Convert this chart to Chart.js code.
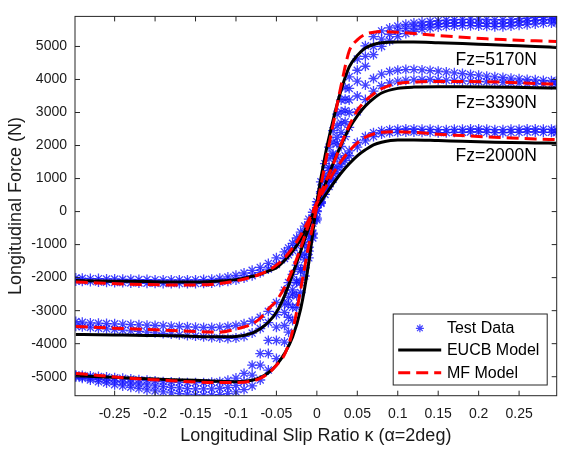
<!DOCTYPE html>
<html><head><meta charset="utf-8">
<script src="https://cdn.jsdelivr.net/npm/chart.js@4.4.1/dist/chart.umd.min.js"></script>
<style>html,body{margin:0;padding:0;background:#fff;}canvas{display:block;}</style>
</head><body>
<canvas id="c" width="563" height="449"></canvas>
<script>
// ---------- data ----------
const X_TICKS = [-0.25,-0.2,-0.15,-0.1,-0.05,0,0.05,0.1,0.15,0.2,0.25];
const Y_TICKS = [-5000,-4000,-3000,-2000,-1000,0,1000,2000,3000,4000,5000];

// slip ratio grid of test-data samples
const KAPPA_TEST = [-0.298,-0.29,-0.28,-0.27,-0.26,-0.25,-0.24,-0.23,-0.22,-0.21,-0.2,-0.19,-0.18,-0.17,-0.16,-0.15,-0.14,-0.13,-0.12,-0.11,-0.1,-0.09,-0.08,-0.07,-0.06,-0.05,-0.04,
 -0.035,-0.03,-0.025,-0.02,-0.015,-0.01,-0.005,0,0.005,0.01,0.015,0.02,0.025,0.03,0.035,0.04,
 0.05,0.06,0.07,0.08,0.09,0.1,0.11,0.12,0.13,0.14,0.15,0.16,0.17,0.18,0.19,0.2,0.21,0.22,0.23,0.24,0.25,0.26,0.27,0.28,0.29,0.296];

// Test data, Fz=2000N (two passes of the loop)
const TEST_2000_A = [-2010,-2020,-2030,-2030,-2040,-2040,-2050,-2050,-2060,-2060,-2070,-2070,-2070,-2070,-2070,-2070,-2060,-2050,-2020,-1980,-1930,-1860,-1780,-1690,-1570,-1400,-1220,
 -1100,-960,-800,-620,-440,-230,-20,200,450,700,930,1150,1350,1530,1690,1840,
 2090,2270,2390,2450,2480,2490,2500,2500,2490,2490,2480,2480,2490,2490,2500,2500,2490,2480,2480,2490,2490,2500,2500,2490,2490,2480];
const TEST_2000_B = [-2100,-2110,-2120,-2130,-2140,-2150,-2150,-2160,-2160,-2170,-2170,-2180,-2180,-2180,-2180,-2180,-2170,-2160,-2140,-2110,-2070,-2010,-1940,-1850,-1740,-1600,-1420,
 -1310,-1180,-1030,-850,-660,-450,-220,20,270,520,760,980,1180,1370,1540,1690,
 1950,2140,2270,2350,2390,2400,2410,2410,2400,2400,2390,2390,2400,2400,2410,2410,2400,2390,2390,2400,2400,2410,2410,2400,2400,2390];
// Test data, Fz=3390N
const TEST_3390_A = [-3330,-3350,-3370,-3380,-3390,-3400,-3410,-3420,-3430,-3440,-3450,-3460,-3470,-3480,-3490,-3500,-3510,-3510,-3500,-3480,-3450,-3400,-3320,-3200,-3020,-2750,-2380,
 -2150,-1900,-1620,-1320,-1000,-650,-280,120,550,950,1330,1700,2060,2400,2720,3000,
 3500,3830,4030,4160,4240,4280,4300,4300,4290,4270,4250,4230,4200,4180,4150,4130,4100,4080,4060,4040,4020,4000,3990,3970,3960,3950];
const TEST_3390_B = [-3470,-3490,-3510,-3530,-3550,-3570,-3590,-3610,-3630,-3650,-3670,-3690,-3710,-3730,-3750,-3770,-3790,-3810,-3830,-3840,-3830,-3780,-3680,-3540,-3360,-3120,-2800,
 -2600,-2370,-2100,-1800,-1460,-1080,-680,-250,250,620,980,1320,1650,1970,2270,2550,
 3020,3390,3650,3810,3900,3950,3980,3990,4000,4000,3990,3980,3970,3960,3950,3940,3930,3920,3910,3900,3890,3880,3870,3860,3850,3850];
// Test data, Fz=5170N
const TEST_5170_A = [-4950,-4960,-4980,-4990,-5010,-5030,-5050,-5070,-5090,-5110,-5130,-5150,-5160,-5170,-5180,-5180,-5180,-5170,-5150,-5110,-5040,-4900,-4650,-4300,-3900,-3500,-3050,
 -2800,-2500,-2150,-1750,-1300,-850,-350,300,900,1450,1950,2450,2950,3380,3750,4080,
 4620,5020,5300,5470,5560,5620,5670,5710,5740,5760,5780,5800,5810,5820,5830,5830,5820,5810,5810,5820,5840,5860,5880,5890,5900,5905];
const TEST_5170_B = [-4980,-5010,-5040,-5070,-5100,-5130,-5160,-5190,-5220,-5250,-5280,-5300,-5320,-5340,-5360,-5370,-5370,-5370,-5350,-5320,-5260,-5150,-4950,-4650,-4300,-3900,-3450,
 -3200,-2900,-2550,-2150,-1700,-1200,-650,0,600,1100,1600,2100,2600,3020,3400,3730,
 4280,4700,5000,5220,5370,5470,5540,5590,5630,5660,5680,5700,5710,5720,5720,5710,5700,5690,5700,5720,5740,5770,5790,5810,5830,5840];
const TEST_5170_C = [-5010,-5050,-5100,-5150,-5190,-5240,-5280,-5320,-5360,-5400,-5430,-5460,-5490,-5510,-5530,-5550,-5560,-5560,-5540,-5510,-5460,-5390,-5280,-5100,-4800,-4450,-3950,
 -3650,-3300,-2900,-2450,-1950,-1400,-800,-200,300,750,1250,1750,2250,2680,3050,3380,
 3950,4400,4750,5000,5170,5300,5390,5460,5520,5560,5590,5610,5620,5630,5630,5620,5610,5600,5600,5620,5640,5660,5680,5700,5710,5720];

// slip ratio grid of model curves
const KAPPA_MODEL = [-0.298,-0.27,-0.24,-0.21,-0.18,-0.15,-0.12,-0.1,-0.08,-0.07,-0.06,-0.05,-0.04,-0.03,-0.02,-0.01,0,0.01,0.02,0.03,0.04,0.05,0.06,0.07,0.08,0.1,0.12,0.15,0.18,0.21,0.24,0.27,0.296];
const EUCB_2000 = [-2090,-2100,-2110,-2120,-2130,-2130,-2100,-2060,-1960,-1900,-1800,-1700,-1480,-1200,-840,-330,130,480,840,1170,1450,1690,1870,2020,2100,2170,2170,2150,2130,2110,2090,2080,2070];
const EUCB_3390 = [-3720,-3730,-3740,-3750,-3760,-3780,-3790,-3780,-3680,-3550,-3350,-3050,-2550,-1900,-1200,-480,250,800,1450,2020,2520,2900,3200,3420,3590,3730,3770,3780,3780,3775,3765,3750,3740];
const EUCB_5170 = [-4970,-5000,-5030,-5060,-5090,-5110,-5140,-5150,-5110,-5030,-4880,-4650,-4300,-3800,-2950,-1550,280,1670,2760,3680,4380,4730,4950,5060,5110,5135,5135,5115,5090,5060,5030,5000,4970];
const MF_2000 = [-2130,-2160,-2190,-2210,-2220,-2220,-2180,-2100,-1980,-1890,-1780,-1620,-1400,-1100,-720,-250,250,700,1150,1520,1830,2080,2250,2350,2400,2420,2400,2340,2300,2260,2230,2200,2180];
const MF_3390 = [-3480,-3510,-3540,-3570,-3600,-3630,-3650,-3560,-3400,-3230,-2950,-2700,-2300,-1750,-1100,-380,280,850,1420,2050,2600,3060,3350,3560,3720,3880,3920,3940,3940,3930,3910,3880,3860];
const MF_5170 = [-4900,-4960,-5030,-5080,-5120,-5160,-5175,-5175,-5130,-5050,-4900,-4650,-4330,-3620,-2355,-1010,150,1420,2620,3820,4860,5200,5370,5430,5450,5430,5390,5330,5280,5230,5200,5170,5150];

// load labels (anchor in data units: slip ratio, force)
const LOAD_LABELS = ['Fz=5170N','Fz=3390N','Fz=2000N'];
const LOAD_LABEL_K = [0.1715,0.1715,0.1715];
const LOAD_LABEL_F = [4595,3277,1680];

const LEGEND = ['Test Data','EUCB Model','MF Model'];

// ---------- chart ----------
const FONT = 'Liberation Sans, Arial, Helvetica, sans-serif';
const pts = (xs, ys) => xs.map((k, i) => ({x: k, y: ys[i]}));
const BLUE = 'rgba(20,20,255,0.8)';
const testDS = (ys) => ({data: pts(KAPPA_TEST, ys), showLine: false, pointStyle: 'star', pointRadius: 5,
  pointBorderColor: BLUE, pointBackgroundColor: BLUE, pointBorderWidth: 1.3, order: 3, clip: 0});
const lineDS = (ys, color, dash, order) => ({data: pts(KAPPA_MODEL, ys), showLine: true, pointRadius: 0,
  borderColor: color, borderWidth: 3, borderDash: dash, cubicInterpolationMode: 'monotone', fill: false, order, clip: 0});

const frame = {
  id: 'frame',
  afterDatasetsDraw(chart) {
    const {ctx, chartArea: a, scales: {x, y}} = chart;
    ctx.save();
    ctx.strokeStyle = '#262626';
    ctx.lineWidth = 1;
    ctx.strokeRect(a.left, a.top, a.right - a.left, a.bottom - a.top);
    ctx.beginPath();
    X_TICKS.forEach(v => { const p = x.getPixelForValue(v);
      ctx.moveTo(p, a.bottom); ctx.lineTo(p, a.bottom - 5);
      ctx.moveTo(p, a.top); ctx.lineTo(p, a.top + 5); });
    Y_TICKS.forEach(v => { const p = y.getPixelForValue(v);
      ctx.moveTo(a.left, p); ctx.lineTo(a.left + 5, p);
      ctx.moveTo(a.right, p); ctx.lineTo(a.right - 5, p); });
    ctx.stroke();
    // load labels
    ctx.fillStyle = '#000';
    ctx.font = '17.5px ' + FONT;
    ctx.textAlign = 'left'; ctx.textBaseline = 'middle';
    LOAD_LABELS.forEach((t, i) => ctx.fillText(t, x.getPixelForValue(LOAD_LABEL_K[i]), y.getPixelForValue(LOAD_LABEL_F[i])));
    ctx.restore();
  },
  afterDraw(chart) {
    const {ctx, chartArea: a} = chart;
    const bx = a.right - 163.5, by = a.bottom - 81.7, bw = 154, bh = 71;
    ctx.save();
    ctx.fillStyle = '#fff';
    ctx.fillRect(bx, by, bw, bh);
    ctx.strokeStyle = '#262626'; ctx.lineWidth = 1;
    ctx.strokeRect(bx, by, bw, bh);
    const rows = [by + 14.3, by + 36, by + 58.7];
    const x0 = bx + 5, x1 = bx + 48;
    // star
    const sx = bx + 26.7, sy = rows[0], r = 4;
    ctx.strokeStyle = BLUE; ctx.lineWidth = 1.2;
    ctx.beginPath();
    for (let k = 0; k < 4; k++) { const ang = k * Math.PI / 4;
      ctx.moveTo(sx - r * Math.cos(ang), sy - r * Math.sin(ang)); ctx.lineTo(sx + r * Math.cos(ang), sy + r * Math.sin(ang)); }
    ctx.stroke();
    ctx.lineWidth = 3;
    ctx.strokeStyle = '#000';
    ctx.beginPath(); ctx.moveTo(x0, rows[1]); ctx.lineTo(x1, rows[1]); ctx.stroke();
    ctx.strokeStyle = '#ff0000'; ctx.setLineDash([12, 6]);
    ctx.beginPath(); ctx.moveTo(x0, rows[2]); ctx.lineTo(x1, rows[2]); ctx.stroke();
    ctx.setLineDash([]);
    ctx.fillStyle = '#000';
    ctx.font = '16px ' + FONT;
    ctx.textAlign = 'left'; ctx.textBaseline = 'middle';
    LEGEND.forEach((t, i) => ctx.fillText(t, bx + 53.7, rows[i] + 0.5));
    ctx.restore();
  }
};

new Chart(document.getElementById('c'), {
  type: 'scatter',
  data: {datasets: [
    lineDS(MF_5170, '#ff0000', [12, 6], 1),
    lineDS(MF_3390, '#ff0000', [12, 6], 1),
    lineDS(MF_2000, '#ff0000', [12, 6], 1),
    lineDS(EUCB_5170, '#000000', [], 2),
    lineDS(EUCB_3390, '#000000', [], 2),
    lineDS(EUCB_2000, '#000000', [], 2),
    testDS(TEST_5170_C), testDS(TEST_5170_B), testDS(TEST_5170_A),
    testDS(TEST_3390_B), testDS(TEST_3390_A),
    testDS(TEST_2000_B), testDS(TEST_2000_A)
  ]},
  options: {
    responsive: false, animation: false, devicePixelRatio: 1,
    layout: {padding: {left: 0, right: 0.5, top: 11.5, bottom: 0}},
    plugins: {legend: {display: false}, tooltip: {enabled: false}},
    scales: {
      x: {type: 'linear', min: -0.299, max: 0.2965,
        afterFit: s => { s.height = 53.3; },
        afterBuildTicks: s => { s.ticks = X_TICKS.map(v => ({value: v})); },
        grid: {display: false, drawTicks: false}, border: {display: false},
        ticks: {autoSkip: false, maxRotation: 0, padding: 10, color: '#1a1a1a', font: {family: FONT, size: 14},
          callback: v => String(Number(v.toFixed(2)))},
        title: {display: true, text: 'Longitudinal Slip Ratio κ (α=2deg)', color: '#1a1a1a',
          font: {family: FONT, size: 18, lineHeight: 1.2}, padding: {top: 0, bottom: 2}}},
      y: {type: 'linear', min: -5575, max: 5910,
        afterFit: s => { s.width = 75; },
        afterBuildTicks: s => { s.ticks = Y_TICKS.map(v => ({value: v})); },
        grid: {display: false, drawTicks: false}, border: {display: false},
        ticks: {autoSkip: false, padding: 8, color: '#1a1a1a', font: {family: FONT, size: 14},
          callback: v => String(v)},
        title: {display: true, text: 'Longitudinal Force (N)', color: '#1a1a1a',
          font: {family: FONT, size: 18, lineHeight: 1.2}, padding: {top: 5, bottom: 0}}}
    }
  },
  plugins: [frame]
});
</script>
</body></html>
